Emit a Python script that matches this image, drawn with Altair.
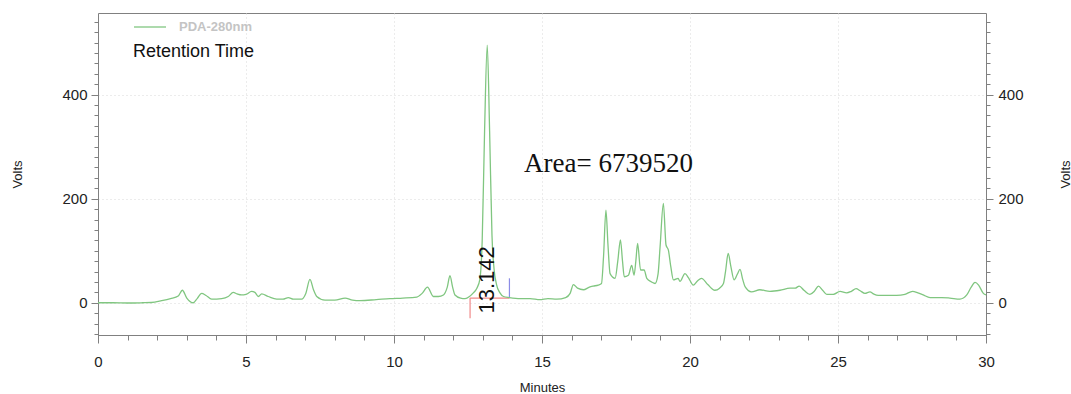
import altair as alt
import pandas as pd

# ---- trace (minutes, volts) ----
time_min = [0.0, 0.5, 1.0, 1.5, 1.8, 2.15, 2.45, 2.71, 2.85, 3.0, 3.22, 3.35, 3.5, 3.65, 3.84,
            4.18, 4.4, 4.57, 4.7, 4.85, 5.0, 5.19, 5.3, 5.42, 5.53, 5.75, 6.04, 6.25, 6.43, 6.6,
            6.88, 7.02, 7.16, 7.28, 7.39, 7.67, 8.0, 8.35, 8.6, 8.85, 9.4, 9.86, 10.3, 10.77,
            10.95, 11.13, 11.33, 11.5, 11.67, 11.8, 11.89, 11.98, 12.06, 12.25, 12.4, 12.55,
            12.68, 12.8, 12.9, 12.98, 13.06, 13.15, 13.23, 13.31, 13.38, 13.46, 13.58, 13.7,
            13.9, 14.26, 14.6, 14.93, 15.2, 15.5, 15.8, 15.95, 16.06, 16.2, 16.4, 16.6, 16.73,
            16.9, 17.01, 17.08, 17.16, 17.23, 17.3, 17.47, 17.56, 17.65, 17.72, 17.78, 17.92,
            18.03, 18.11, 18.17, 18.23, 18.33, 18.45, 18.54, 18.7, 18.82, 18.92, 18.99, 19.1,
            19.19, 19.27, 19.35, 19.44, 19.6, 19.66, 19.83, 19.95, 20.11, 20.25, 20.39, 20.6,
            20.84, 21.0, 21.13, 21.2, 21.29, 21.38, 21.49, 21.6, 21.69, 21.78, 21.86, 22.08,
            22.36, 22.7, 23.04, 23.38, 23.55, 23.69, 23.85, 24.05, 24.2, 24.34, 24.48, 24.62,
            24.84, 25.07, 25.29, 25.45, 25.61, 25.75, 25.91, 26.08, 26.2, 26.36, 26.7, 26.98,
            27.26, 27.52, 27.7, 27.88, 28.11, 28.5, 28.78, 29.12, 29.35, 29.5, 29.63, 29.75,
            29.91, 30.0]
volts = [0, 0, -0.5, 0, 0.5, 4, 8, 13, 24, 9, 0, 8, 18, 14, 7,
         8, 12, 20, 17, 15, 16, 22, 20, 12, 17, 12, 7, 7, 10, 7,
         7, 18, 45, 25, 12, 5, 5, 9, 5, 4, 6, 8, 9, 11,
         18, 30, 12, 12, 15, 30, 52, 30, 15, 9, 8, 12,
         19, 28, 45, 120, 330, 495, 330, 130, 65, 36, 19, 12,
         10, 8, 8, 6, 8, 7, 10, 18, 35, 28, 25, 30, 32,
         34, 37, 90, 178, 110, 56, 47, 80, 121, 80, 50, 53,
         72, 53, 80, 114, 63, 63, 47, 40, 37, 55, 108, 191,
         111, 101, 70, 44, 47, 41, 56, 48, 34, 42, 47, 35,
         24, 28, 37, 60, 95, 70, 44, 55, 64, 45, 31, 21,
         25, 22, 24, 28, 28, 32, 24, 16, 22, 32, 24, 16,
         16, 22, 19, 22, 27, 23, 18, 21, 17, 14, 14, 14,
         16, 22, 19, 15, 10, 10, 9, 7, 15, 30, 39, 34,
         18, 15]
series_name = "PDA-280nm"
legend_title = "Retention Time"

# axis ticks
x_major = [0, 5, 10, 15, 20, 25, 30]
x_minor = list(range(0, 31))
y_major = [0, 200, 400]
y_minor = [v for v in range(-60, 560, 20) if v % 200 != 0]
X_DOMAIN = [0, 30]
Y_DOMAIN = [-62, 557]

# annotations
peak_label = ["13.142"]
peak_label_x = [13.142]
peak_label_y = [44]
area_label = ["Area= 6739520"]
area_label_x = [14.39]
area_label_y = [251]
mark_x = [12.57, 12.57, 13.9]
mark_x2 = [12.57, 13.9, 13.9]
mark_y = [-30, 9, 9]
mark_y2 = [9, 9, 47]
mark_col = ["#f08a8a", "#f08a8a", "#8c8ce6"]

GREEN = "#80c680"
AXC = "#808080"
FONT = "Liberation Sans"

df = pd.DataFrame({"t": time_min, "v": volts, "series": series_name})
df_peak = pd.DataFrame({"x": peak_label_x, "y": peak_label_y, "txt": peak_label})
df_area = pd.DataFrame({"x": area_label_x, "y": area_label_y, "txt": area_label})
df_marks = pd.DataFrame({"x": mark_x, "x2": mark_x2, "y": mark_y, "y2": mark_y2, "c": mark_col})


def xs():
    return alt.Scale(domain=X_DOMAIN, nice=False, zero=False)


def ys():
    return alt.Scale(domain=Y_DOMAIN, nice=False, zero=False)


common_axis = dict(domainColor=AXC, tickColor=AXC, labelColor="#222222", labelFont=FONT,
                   labelFontSize=15, titleFont=FONT, titleColor="#222222",
                   titleFontWeight="normal")

line = alt.Chart(df).mark_line(strokeWidth=1.3, interpolate="monotone").encode(
    x=alt.X("t:Q", scale=xs(), axis=alt.Axis(
        values=x_major, orient="bottom", tickSize=8, labelPadding=11, grid=True,
        gridColor="#d9d9d9", gridDash=[1, 3], title="Minutes", titleFontSize=13,
        titleX=444, titleY=52, titleBaseline="middle", labelFlush=False, **common_axis)),
    y=alt.Y("v:Q", scale=ys(), axis=alt.Axis(
        values=y_major, orient="left", tickSize=7, labelPadding=4, grid=True,
        gridColor="#d9d9d9", gridDash=[1, 3], title="Volts", titleFontSize=13,
        titleAngle=270, titleX=-81, titleY=161, titleBaseline="middle", **common_axis)),
    color=alt.Color("series:N", scale=alt.Scale(range=[GREEN]), legend=alt.Legend(
        orient="none", legendX=35, legendY=-3, padding=0, title=legend_title,
        titleOrient="bottom", titleFont=FONT, titleFontSize=18, titleFontWeight="normal",
        titleColor="#111111", titleAnchor="start", titlePadding=9,
        labelFont=FONT, labelFontSize=13, labelFontWeight="bold", labelColor="#c4c4c4",
        labelOffset=12, symbolType="stroke", symbolSize=1024, symbolStrokeWidth=1.3)),
)

minor = alt.Chart(df).mark_line(opacity=0).encode(
    x=alt.X("t:Q", scale=xs(), axis=alt.Axis(
        values=x_minor, orient="bottom", tickSize=5, labels=False, domain=False,
        grid=False, title=None, tickColor=AXC)),
    y=alt.Y("v:Q", scale=ys(), axis=alt.Axis(
        values=y_minor, orient="left", tickSize=4, labels=False, domain=False,
        grid=False, title=None, tickColor=AXC)),
)

right = alt.Chart(df).mark_line(opacity=0).encode(
    x=alt.X("t:Q", scale=xs(), axis=None),
    y=alt.Y("v:Q", scale=ys(), axis=alt.Axis(
        values=y_major, orient="right", tickSize=7, labelPadding=5, grid=False,
        title="Volts", titleFontSize=13, titleAngle=270, titleX=79, titleY=161,
        titleBaseline="middle", **common_axis)),
)

right_minor = alt.Chart(df).mark_line(opacity=0).encode(
    x=alt.X("t:Q", scale=xs(), axis=None),
    y=alt.Y("v:Q", scale=ys(), axis=alt.Axis(
        values=y_minor, orient="right", tickSize=4, labels=False, domain=False,
        grid=False, title=None, tickColor=AXC)),
)

rules = alt.Chart(df_marks).mark_rule(strokeWidth=1.2).encode(
    x=alt.X("x:Q", scale=xs(), axis=None),
    x2="x2:Q",
    y=alt.Y("y:Q", scale=ys(), axis=None),
    y2="y2:Q",
    color=alt.Color("c:N", scale=None, legend=None),
)

peak_txt = alt.Chart(df_peak).mark_text(
    angle=270, font=FONT, fontSize=22, color="#111111", align="center", baseline="middle"
).encode(
    x=alt.X("x:Q", scale=xs(), axis=None),
    y=alt.Y("y:Q", scale=ys(), axis=None),
    text="txt:N",
)

area_txt = alt.Chart(df_area).mark_text(
    font="Liberation Serif", fontSize=27, color="#111111", align="left", baseline="alphabetic"
).encode(
    x=alt.X("x:Q", scale=xs(), axis=None),
    y=alt.Y("y:Q", scale=ys(), axis=None),
    text="txt:N",
)

chart = alt.layer(rules, line, minor, right, right_minor, peak_txt, area_txt).resolve_scale(
    x="independent", y="independent", color="independent"
).properties(
    width=888, height=322,
    autosize=alt.AutoSizeParams(type="none"),
    padding={"left": 98, "top": 13, "right": 85, "bottom": 59},
    background="white",
).configure_view(stroke=AXC, strokeWidth=1)

chart.save("out.html", embed_options={"renderer": "svg", "actions": False})
